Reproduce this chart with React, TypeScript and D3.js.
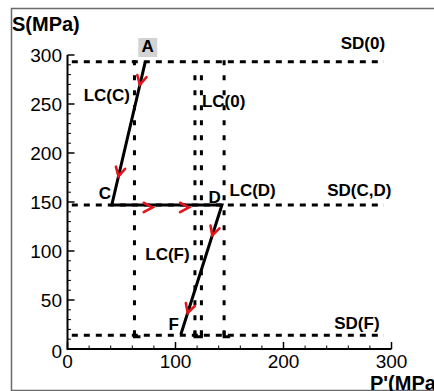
import React from "react";
import * as d3 from "d3";

// Axis ticks
const xTicks = [0, 100, 200, 300];
const yTicks = [0, 50, 100, 150, 200, 250, 300];
const xMinorStep = 20;
const yMinorStep = 10;

// Stress path A -> C -> D -> F (P', S in MPa)
const pathNames = ["A", "C", "D", "F"];
const pathP = [72, 41, 143, 105];
const pathS = [293, 147, 147, 15];

// Horizontal dashed lines (SD)
const sdNames = ["SD(0)", "SD(C,D)", "SD(F)"];
const sdS = [293, 147, 14];
const sdFrom = 4;
const sdTo = 293;

// Vertical dotted lines (LC)
const lcP = [62, 118, 124, 145];
const lcTop = [297, 287, 287, 300];
const lcBottom = 14;

// Direction arrows along the path: segment index and fraction along it
const arrowSeg = [0, 0, 1, 1, 2, 2];
const arrowT = [0.16, 0.8, 0.37, 0.7, 0.235, 0.835];

// Text annotations (P', S anchor of the text's left baseline)
const noteText = ["LC(C)", "LC(0)", "LC(D)", "LC(F)", "SD(0)", "SD(C,D)", "SD(F)", "C", "D", "F"];
const noteP = [15, 124.5, 150, 72, 253, 240.5, 247, 29, 130.5, 93.5];
const noteS = [253, 247, 156, 91, 306, 156, 20, 153, 149, 19];

const W = 434;
const H = 391;

export default function App() {
  const x = d3.scaleLinear().domain([0, 300]).range([67.5, 391.5]);
  const y = d3.scaleLinear().domain([0, 300]).range([349, 55]);

  const xMinor = d3.range(0, 300 + 1e-9, xMinorStep).filter((v) => !xTicks.includes(v));
  const yMinor = d3.range(0, 300 + 1e-9, yMinorStep).filter((v) => !yTicks.includes(v));

  const line = d3
    .line<number>()
    .x((i) => x(pathP[i]))
    .y((i) => y(pathS[i]));

  const font = "'Liberation Sans', Arial, Helvetica, sans-serif";
  const red = "#e3141b";

  const arrows = arrowSeg.map((seg, k) => {
    const t = arrowT[k];
    const x0 = x(pathP[seg]);
    const y0 = y(pathS[seg]);
    const x1 = x(pathP[seg + 1]);
    const y1 = y(pathS[seg + 1]);
    const dx = x1 - x0;
    const dy = y1 - y0;
    const len = Math.hypot(dx, dy);
    const ux = dx / len;
    const uy = dy / len;
    // perpendicular to the right of travel direction
    const off = seg === 1 ? 2.5 : 0;
    const ax = x0 + dx * t - uy * off;
    const ay = y0 + dy * t + ux * off;
    const ang = Math.atan2(-uy, -ux);
    const a = (28 * Math.PI) / 180;
    const L = 10;
    const p1 = [ax + L * Math.cos(ang + a), ay + L * Math.sin(ang + a)];
    const p2 = [ax + L * Math.cos(ang - a), ay + L * Math.sin(ang - a)];
    return `M${p1[0]},${p1[1]}L${ax},${ay}L${p2[0]},${p2[1]}`;
  });

  return (
    <svg
      width={W}
      height={H}
      style={{ position: "absolute", left: 0, top: 0, display: "block", background: "#fff" }}
      fontFamily={font}
    >
      <rect x={0} y={0} width={W} height={H} fill="#fff" />
      {/* frame */}
      <rect x={11.5} y={8.5} width={430} height={382} fill="none" stroke="#6a6a6a" strokeWidth={1.5} />

      {/* title */}
      <text x={12} y={30.5} fontSize={20} fontWeight="bold" fill="#000">
        S(MPa)
      </text>

      {/* horizontal SD lines */}
      {sdS.map((s, i) => (
        <line
          key={"sd" + i}
          x1={x(sdFrom)}
          x2={x(sdTo)}
          y1={y(s)}
          y2={y(s)}
          stroke="#000"
          strokeWidth={3}
          strokeDasharray="6 6"
        />
      ))}

      {/* vertical LC lines, drawn from the bottom up */}
      {lcP.map((p, i) => (
        <line
          key={"lc" + i}
          x1={x(p)}
          x2={x(p)}
          y1={y(lcBottom)}
          y2={y(lcTop[i])}
          stroke="#000"
          strokeWidth={3}
          strokeDasharray="5 10"
        />
      ))}
      {/* bottom joints of the LC lines */}
      <path
        d={`M${x(lcP[0])},${y(lcBottom) - 4}V${y(lcBottom) + 1.5}H${x(lcP[0]) + 6}`}
        fill="none"
        stroke="#000"
        strokeWidth={3}
      />
      <path
        d={`M${x(lcP[1])},${y(lcBottom) - 4}V${y(lcBottom) + 1.5}H${x(lcP[2])}V${y(lcBottom) - 4}`}
        fill="none"
        stroke="#000"
        strokeWidth={3}
      />
      <path
        d={`M${x(lcP[3])},${y(lcBottom) - 4}V${y(lcBottom) + 1.5}H${x(lcP[3]) + 6}`}
        fill="none"
        stroke="#000"
        strokeWidth={3}
      />

      {/* axes */}
      <line x1={x(0)} x2={x(300)} y1={y(0)} y2={y(0)} stroke="#000" strokeWidth={2} />
      <line x1={x(0)} x2={x(0)} y1={y(0) + 1} y2={y(300)} stroke="#000" strokeWidth={2} />
      {xTicks.map((v) => (
        <line key={"xt" + v} x1={x(v)} x2={x(v)} y1={y(0)} y2={y(0) - 7} stroke="#000" strokeWidth={1.5} />
      ))}
      {xMinor.map((v) => (
        <line key={"xm" + v} x1={x(v)} x2={x(v)} y1={y(0)} y2={y(0) - 3.5} stroke="#000" strokeWidth={1} />
      ))}
      {yTicks.map((v) => (
        <line key={"yt" + v} x1={x(0)} x2={x(0) + 7} y1={y(v)} y2={y(v)} stroke="#000" strokeWidth={1.5} />
      ))}
      {yMinor.map((v) => (
        <line key={"ym" + v} x1={x(0)} x2={x(0) + 3.5} y1={y(v)} y2={y(v)} stroke="#000" strokeWidth={1} />
      ))}
      {xTicks.map((v) => (
        <text key={"xl" + v} x={x(v)} y={y(0) + 18.5} fontSize={19} textAnchor="middle" fill="#000">
          {v}
        </text>
      ))}
      {yTicks.map((v) => (
        <text key={"yl" + v} x={62} y={y(v) + 7 + (v === 0 ? 2 : 0)} fontSize={19} textAnchor="end" fill="#000">
          {v}
        </text>
      ))}
      <text x={370} y={390} fontSize={20} fontWeight="bold" fill="#000">
        P'(MPa)
      </text>

      {/* stress path */}
      <path d={line(d3.range(pathP.length)) || ""} fill="none" stroke="#000" strokeWidth={3} />

      {/* arrows */}
      {arrows.map((d, i) => (
        <path key={"ar" + i} d={d} fill="none" stroke={red} strokeWidth={2.6} strokeLinecap="round" strokeLinejoin="miter" />
      ))}

      {/* point A label with shaded box */}
      <rect x={x(pathP[0]) - 7} y={38} width={19} height={19} fill="#d3d3d3" />
      <text x={x(pathP[0]) + 2.5} y={y(pathS[0]) - 10} fontSize={17} fontWeight="bold" textAnchor="middle" fill="#000">
        {pathNames[0]}
      </text>

      {/* annotations */}
      {noteText.map((t, i) => (
        <text key={"n" + i} x={x(noteP[i])} y={y(noteS[i])} fontSize={17} fontWeight="bold" fill="#000">
          {t}
        </text>
      ))}
    </svg>
  );
}
